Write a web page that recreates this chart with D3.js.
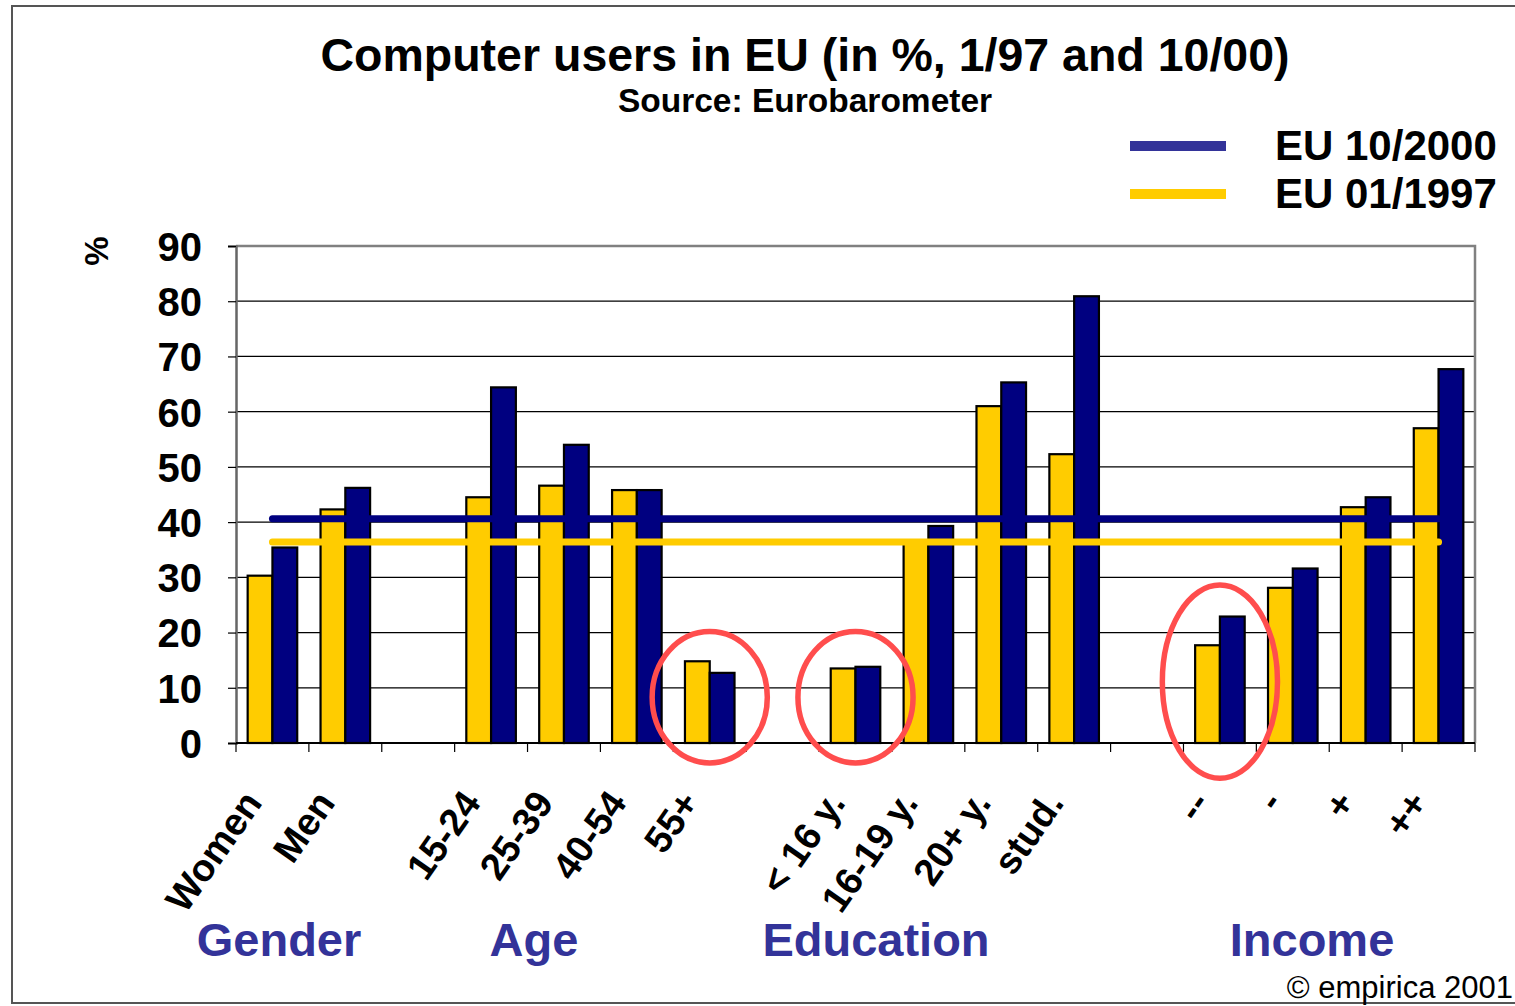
<!DOCTYPE html>
<html>
<head>
<meta charset="utf-8">
<script src="https://cdn.jsdelivr.net/npm/d3@7/dist/d3.min.js"></script>
<style>
  html, body { margin: 0; padding: 0; background: #fff; }
  svg { display: block; font-family: "Liberation Sans", Arial, sans-serif; }
</style>
</head>
<body>
<svg id="chart" width="1515" height="1006"></svg>
<script>
// ---- data ----
const categories = ["Women", "Men", "", "15-24", "25-39", "40-54", "55+", "", "< 16 y.", "16-19 y.", "20+ y.", "stud.", "", "--", "-", "+", "++"];
const eu1997 = [30.3, 42.3, null, 44.5, 46.6, 45.8, 14.8, null, 13.5, 36.5, 61.0, 52.3, null, 17.7, 28.1, 42.7, 57.0];
const eu2000 = [35.4, 46.2, null, 64.4, 54.0, 45.8, 12.7, null, 13.8, 39.3, 65.3, 80.9, null, 22.9, 31.6, 44.5, 67.7];
const avg1997 = 36.4;
const avg2000 = 40.6;
const yTicks = [0, 10, 20, 30, 40, 50, 60, 70, 80, 90];
const groupNames = ["Gender", "Age", "Education", "Income"];
const seriesNames = ["EU 10/2000", "EU 01/1997"];
const highlighted = [
  { cat: "55+", from: -3.6, to: 20.2 },
  { cat: "< 16 y.", from: -3.6, to: 20.2 },
  { cat: "--", from: -6.4, to: 28.6 }
];

// ---- layout ----
const svg = d3.select("#chart");
const L = 236, R = 1475, T = 246, B = 743;
const YELLOW = "#FFCC00", NAVY = "#000080", LEGNAVY = "#333399", GROUPC = "#333399", RED = "#FF4D4D";

const x = d3.scaleBand().domain(d3.range(categories.length)).range([L, R]).padding(0);
const y = d3.scaleLinear().domain([0, 90]).range([B, T]);
const step = x.step();
const bw = step * 0.34;
const off = (step - 2 * bw) / 2;

// outer frame
svg.append("rect").attr("x", 12).attr("y", 6).attr("width", 1520).attr("height", 997)
  .attr("fill", "none").attr("stroke", "#555").attr("stroke-width", 2);

// title
svg.append("text").attr("x", 805).attr("y", 71).attr("text-anchor", "middle")
  .attr("font-size", 46.5).attr("font-weight", "bold").text("Computer users in EU (in %, 1/97 and 10/00)");
svg.append("text").attr("x", 805).attr("y", 112).attr("text-anchor", "middle")
  .attr("font-size", 33.5).attr("font-weight", "bold").text("Source: Eurobarometer");

// legend
const legColors = [LEGNAVY, YELLOW];
seriesNames.forEach((s, i) => {
  const ly = 146 + i * 48;
  svg.append("line").attr("x1", 1130).attr("x2", 1226).attr("y1", ly).attr("y2", ly)
    .attr("stroke", legColors[i]).attr("stroke-width", 10);
  svg.append("text").attr("x", 1275).attr("y", ly + 14).attr("font-size", 42).attr("font-weight", "bold").text(s);
});

// gridlines
svg.append("g").selectAll("line").data(yTicks.filter(t => t > 0 && t < 90)).join("line")
  .attr("x1", L).attr("x2", R).attr("y1", d => y(d)).attr("y2", d => y(d))
  .attr("stroke", "#000").attr("stroke-width", 1.2);

// plot border top/right
svg.append("path").attr("d", `M${L},${T}H${R}V${B}`).attr("fill", "none").attr("stroke", "#808080").attr("stroke-width", 2.5);

// y axis
const yAxis = d3.axisLeft(y).tickValues(yTicks).tickSize(8).tickPadding(26);
const gy = svg.append("g").attr("transform", `translate(${L},0)`).call(yAxis);
gy.select(".domain").attr("stroke", "#666").attr("stroke-width", 2.5);
gy.selectAll(".tick line").attr("stroke", "#000").attr("stroke-width", 1.2);
gy.selectAll(".tick text").attr("font-size", 40).attr("font-weight", "bold").attr("fill", "#000")
  .attr("font-family", "Liberation Sans, Arial, sans-serif").attr("dy", "0.36em");

// y label
svg.append("text").attr("transform", "translate(108,251) rotate(-90)").attr("text-anchor", "middle")
  .attr("font-size", 33).attr("font-weight", "bold").text("%");

// bars
const rows = categories.map((c, i) => ({ i, c, a: eu1997[i], b: eu2000[i] })).filter(d => d.a != null);
const gb = svg.append("g");
gb.selectAll("rect.y97").data(rows).join("rect").attr("class", "y97")
  .attr("x", d => x(d.i) + off).attr("width", bw)
  .attr("y", d => y(d.a)).attr("height", d => y(0) - y(d.a))
  .attr("fill", YELLOW).attr("stroke", "#000").attr("stroke-width", 2.2);
gb.selectAll("rect.y00").data(rows).join("rect").attr("class", "y00")
  .attr("x", d => x(d.i) + off + bw).attr("width", bw)
  .attr("y", d => y(d.b)).attr("height", d => y(0) - y(d.b))
  .attr("fill", NAVY).attr("stroke", "#000").attr("stroke-width", 2.2);

// x axis
svg.append("line").attr("x1", L).attr("x2", R).attr("y1", B).attr("y2", B).attr("stroke", "#000").attr("stroke-width", 2);
svg.append("g").selectAll("line").data(d3.range(categories.length + 1)).join("line")
  .attr("x1", d => L + d * step).attr("x2", d => L + d * step).attr("y1", B).attr("y2", B + 9)
  .attr("stroke", "#000").attr("stroke-width", 1.2);

// average lines
const firstC = x(0) + step / 2, lastC = x(categories.length - 1) + step / 2;
svg.append("line").attr("x1", firstC).attr("x2", lastC).attr("y1", y(avg2000)).attr("y2", y(avg2000))
  .attr("stroke", NAVY).attr("stroke-width", 7).attr("stroke-linecap", "round");
svg.append("line").attr("x1", firstC).attr("x2", lastC).attr("y1", y(avg1997)).attr("y2", y(avg1997))
  .attr("stroke", YELLOW).attr("stroke-width", 7).attr("stroke-linecap", "round");

// category labels
svg.append("g").selectAll("text").data(categories.map((c, i) => ({ c, i })).filter(d => d.c)).join("text")
  .attr("transform", d => `translate(${x(d.i) + step / 2 - 9},803) rotate(-55)`)
  .attr("text-anchor", "end").attr("font-size", 38).attr("font-weight", "bold").text(d => d.c);

// group labels
const groupX = [279, 534, 876, 1312];
groupNames.forEach((g, i) => {
  svg.append("text").attr("x", groupX[i]).attr("y", 956).attr("text-anchor", "middle")
    .attr("font-size", 47).attr("font-weight", "bold").attr("fill", GROUPC).text(g);
});

// highlight ellipses
svg.append("g").selectAll("ellipse").data(highlighted).join("ellipse")
  .attr("cx", d => x(categories.indexOf(d.cat)) + step / 2)
  .attr("cy", d => (y(d.from) + y(d.to)) / 2)
  .attr("rx", step * 0.79)
  .attr("ry", d => (y(d.from) - y(d.to)) / 2)
  .attr("fill", "none").attr("stroke", RED).attr("stroke-width", 5.5);

// copyright
svg.append("text").attr("x", 1513).attr("y", 998).attr("text-anchor", "end")
  .attr("font-size", 31).text("© empirica 2001");
</script>
</body>
</html>
